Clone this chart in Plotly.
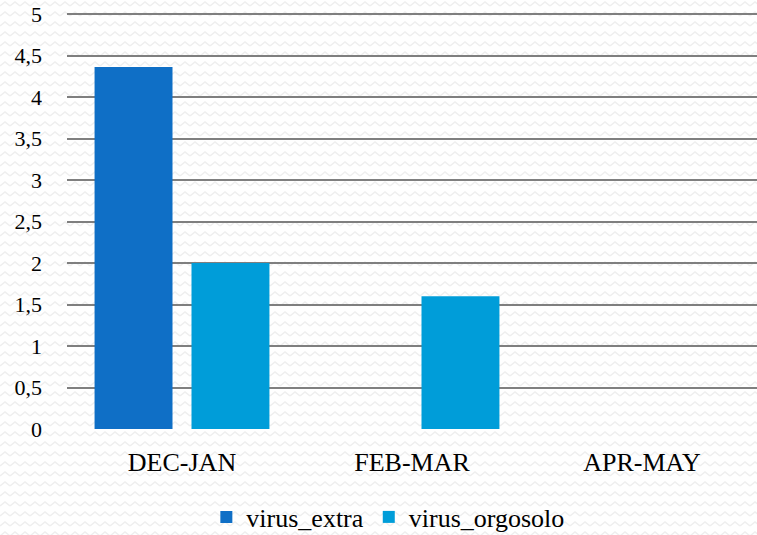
import base64
import plotly.graph_objects as go

categories = ["DEC-JAN", "FEB-MAR", "APR-MAY"]
virus_extra = [4.36, None, None]
virus_orgosolo = [2.0, 1.6, None]
y_ticks = [0, 0.5, 1, 1.5, 2, 2.5, 3, 3.5, 4, 4.5, 5]

FF = "Liberation Serif"

# subtle zigzag background texture
svg = (
    '<svg xmlns="http://www.w3.org/2000/svg" width="757" height="535">'
    '<defs><pattern id="z" width="10" height="10" patternUnits="userSpaceOnUse">'
    '<polyline points="0,6 5,2 10,6" fill="none" stroke="#efefef" stroke-width="1.6"/>'
    '</pattern></defs>'
    '<rect width="757" height="535" fill="#ffffff"/>'
    '<rect width="757" height="535" fill="url(#z)"/></svg>'
)
bg = "data:image/svg+xml;base64," + base64.b64encode(svg.encode()).decode()

T, B, L = 12, 106, 67
PH = 535 - T - B
PW = 757 - L
y_top = 5 + 2 * 5 / (PH - 2)

fig = go.Figure()
fig.add_trace(go.Bar(name="virus_extra", x=categories, y=virus_extra,
                     marker=dict(color="#0F6FC6", line=dict(width=0))))
fig.add_trace(go.Bar(name="virus_orgosolo", x=categories, y=virus_orgosolo,
                     marker=dict(color="#009DD9", line=dict(width=0))))

fig.update_layout(
    width=757, height=535,
    margin=dict(l=L, r=0, t=T, b=B, autoexpand=False),
    paper_bgcolor="#ffffff", plot_bgcolor="rgba(0,0,0,0)",
    images=[dict(source=bg, xref="paper", yref="paper", x=-L / PW, y=1 + T / PH,
                 sizex=757 / PW, sizey=535 / PH, xanchor="left", yanchor="top",
                 sizing="stretch", layer="below")],
    barmode="group", bargap=0.157, bargroupgap=0.196,
    separators=",.",
    font=dict(family=FF, size=20, color="#000000"),
    showlegend=True,
    legend=dict(orientation="h", x=0.465, xanchor="center", y=-88 / PH, yanchor="middle",
                font=dict(family=FF, size=26, color="#000000"), itemwidth=30,
                traceorder="normal", bgcolor="rgba(0,0,0,0)"),
    xaxis=dict(showgrid=False, showline=False, ticks="", automargin=False,
               tickfont=dict(family=FF, size=26, color="#000000"),
               ticklabelstandoff=15),
    yaxis=dict(range=[0, y_top], tickvals=y_ticks, showgrid=True, gridcolor="#7f7f7f",
               gridwidth=2, zeroline=False, showline=False, ticks="", automargin=False,
               tickfont=dict(family=FF, size=22, color="#000000"), ticklabelstandoff=24),
)

fig.write_html("out.html", config={"displayModeBar": False},
               post_script="document.body.style.margin='0';")
